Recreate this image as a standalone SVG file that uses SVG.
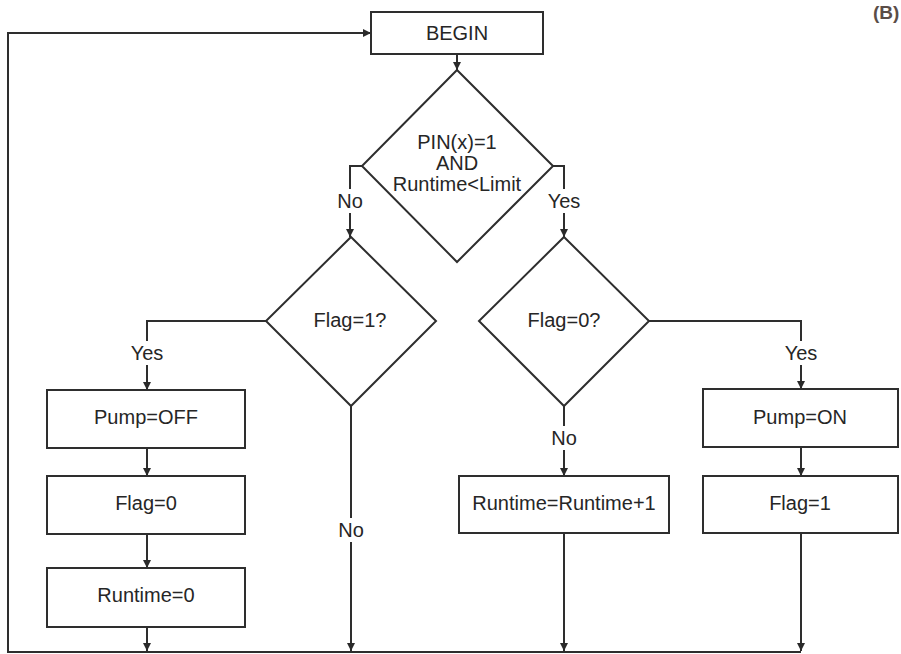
<svg xmlns="http://www.w3.org/2000/svg" width="901" height="654" viewBox="0 0 901 654">
<defs>
<marker id="arr" markerUnits="userSpaceOnUse" markerWidth="8" markerHeight="8" refX="8" refY="4" orient="auto">
<path d="M0,0 L8,4 L0,8 z" fill="#2a2a2a"/>
</marker>
<style>
.box{fill:#fff;stroke:#2e2e2e;stroke-width:2}
.dia{fill:#fff;stroke:#2e2e2e;stroke-width:2}
.ln{fill:none;stroke:#2e2e2e;stroke-width:2}
.t{font-family:"Liberation Sans",Arial,sans-serif;font-size:20px;fill:#262626;text-anchor:middle}
.lb{fill:#fff;stroke:none}
</style>
</defs>
<rect width="901" height="654" fill="#fff"/>
<text x="873" y="19" style="font-family:'Liberation Sans',Arial,sans-serif;font-size:19px;font-weight:bold;fill:#5a4d47">(B)</text>
<g id="connectors">
<path class="ln" d="M457,54 V70" marker-end="url(#arr)"/>
<path class="ln" d="M362,166 H350 V237" marker-end="url(#arr)"/>
<path class="ln" d="M553,166 H564 V237" marker-end="url(#arr)"/>
<path class="ln" d="M266,321 H147 V390" marker-end="url(#arr)"/>
<path class="ln" d="M147,448 V476" marker-end="url(#arr)"/>
<path class="ln" d="M147,534 V568" marker-end="url(#arr)"/>
<path class="ln" d="M147,627 V651" marker-end="url(#arr)"/>
<path class="ln" d="M351,406 V651" marker-end="url(#arr)"/>
<path class="ln" d="M564,406 V476" marker-end="url(#arr)"/>
<path class="ln" d="M564,533 V651" marker-end="url(#arr)"/>
<path class="ln" d="M649,321 H801 V389" marker-end="url(#arr)"/>
<path class="ln" d="M801,447 V476" marker-end="url(#arr)"/>
<path class="ln" d="M801,533 V651" marker-end="url(#arr)"/>
<path class="ln" d="M801,652 H8 V33 H371" marker-end="url(#arr)"/>
<rect class="lb" x="337" y="189" width="26" height="24"/>
<text class="t" x="350" y="208">No</text>
<rect class="lb" x="547" y="189" width="34" height="24"/>
<text class="t" x="564" y="208">Yes</text>
<rect class="lb" x="130" y="341" width="34" height="24"/>
<text class="t" x="147" y="360">Yes</text>
<rect class="lb" x="784" y="341" width="34" height="24"/>
<text class="t" x="801" y="360">Yes</text>
<rect class="lb" x="338" y="518" width="26" height="24"/>
<text class="t" x="351" y="537">No</text>
<rect class="lb" x="551" y="426" width="26" height="24"/>
<text class="t" x="564" y="445">No</text>
</g>
<g id="begin">
<rect class="box" x="371" y="12" width="172" height="42"/>
<text class="t" x="457" y="40">BEGIN</text>
</g>
<g id="cond-main">
<polygon class="dia" points="457,70 553,166 457,262 362,166"/>
<text class="t" x="457" y="149">PIN(x)=1</text>
<text class="t" x="457" y="170">AND</text>
<text class="t" x="457" y="191">Runtime&lt;Limit</text>
</g>
<g id="flag1-check">
<polygon class="dia" points="351,237 436,321 351,406 266,321"/>
<text class="t" x="350" y="327">Flag=1?</text>
</g>
<g id="flag0-check">
<polygon class="dia" points="564,237 649,321 564,406 479,321"/>
<text class="t" x="564" y="327">Flag=0?</text>
</g>
<g id="pump-off">
<rect class="box" x="47" y="390" width="198" height="58"/>
<text class="t" x="146" y="424">Pump=OFF</text>
</g>
<g id="flag-0">
<rect class="box" x="47" y="476" width="198" height="58"/>
<text class="t" x="146" y="510">Flag=0</text>
</g>
<g id="runtime-0">
<rect class="box" x="47" y="568" width="198" height="59"/>
<text class="t" x="146" y="602">Runtime=0</text>
</g>
<g id="runtime-inc">
<rect class="box" x="459" y="476" width="210" height="57"/>
<text class="t" x="564" y="510">Runtime=Runtime+1</text>
</g>
<g id="pump-on">
<rect class="box" x="703" y="389" width="195" height="58"/>
<text class="t" x="800" y="424">Pump=ON</text>
</g>
<g id="flag-1">
<rect class="box" x="703" y="476" width="195" height="57"/>
<text class="t" x="800" y="510">Flag=1</text>
</g>
</svg>
